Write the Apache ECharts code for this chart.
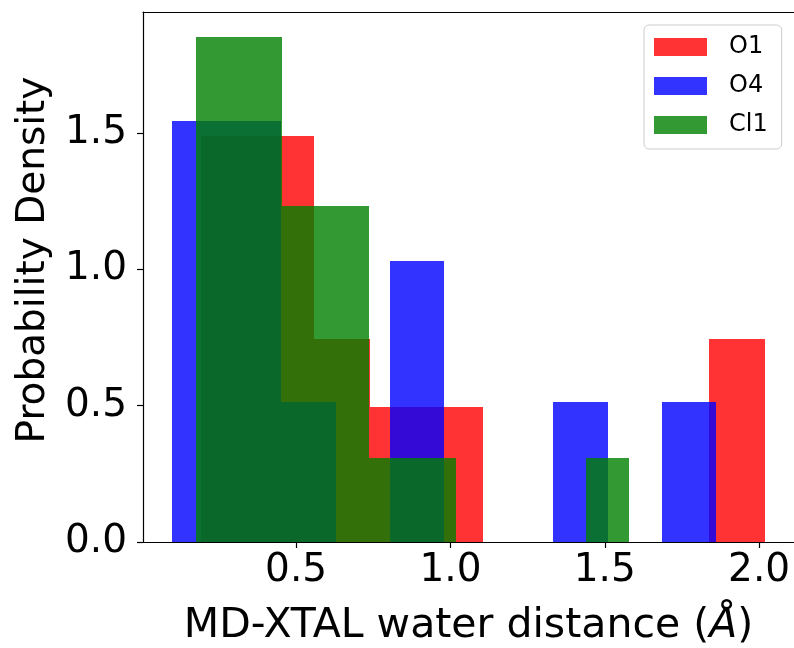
<!DOCTYPE html>
<html>
<head>
<meta charset="utf-8">
<script src="https://cdn.jsdelivr.net/npm/echarts@6/dist/echarts.min.js"></script>
<style>
  html, body { margin: 0; padding: 0; background: #fff; }
  #chart { width: 794px; height: 648px; }
</style>
</head>
<body>
<div id="chart"></div>
<script>
// bin edges and density heights
var o1Edges = [0.192, 0.375, 0.558, 0.740, 0.923, 1.106, 1.289, 1.471, 1.654, 1.837, 2.020];
var o1Heights = [1.489, 1.489, 0.744, 0.497, 0.497, 0, 0, 0, 0, 0.744];

var o4Edges = [0.099, 0.275, 0.451, 0.628, 0.804, 0.980, 1.156, 1.333, 1.509, 1.685, 1.861];
var o4Heights = [1.545, 1.545, 0.515, 0, 1.030, 0, 0, 0.515, 0, 0.515];

var cl1Edges = [0.175, 0.315, 0.455, 0.596, 0.736, 0.877, 1.017, 1.157, 1.298, 1.438, 1.579];
var cl1Heights = [1.851, 1.851, 1.234, 1.234, 0.308, 0.308, 0, 0, 0, 0.308];

var seriesNames = ['O1', 'O4', 'Cl1'];
var xTicks = [0.5, 1.0, 1.5, 2.0];
var yTicks = [0.0, 0.5, 1.0, 1.5];

var FONT = 'DejaVu Sans';

function toBins(edges, heights) {
  var out = [];
  for (var i = 0; i < heights.length; i++) {
    if (heights[i] > 0) out.push([edges[i], edges[i + 1], heights[i]]);
  }
  return out;
}

// snap to whole pixels so neighbouring bins of one series don't leave seams
function renderBar(params, api) {
  var top = api.coord([api.value(0), api.value(2)]);
  var bot = api.coord([api.value(1), 0]);
  var x0 = Math.round(top[0]), x1 = Math.round(bot[0]);
  var y0 = Math.round(top[1]), y1 = Math.round(bot[1]);
  return {
    type: 'rect',
    shape: { x: x0, y: y0, width: x1 - x0, height: y1 - y0 },
    style: { fill: api.visual('color') }
  };
}

function histSeries(name, color, edges, heights) {
  return {
    name: name,
    type: 'custom',
    renderItem: renderBar,
    itemStyle: { color: color },
    encode: { x: [0, 1], y: 2 },
    data: toBins(edges, heights)
  };
}

var chart = echarts.init(document.getElementById('chart'), null, { renderer: 'canvas' });
chart.setOption({
  animation: false,
  textStyle: { fontFamily: FONT },
  grid: { left: 143, right: 0, top: 12, bottom: 106, containLabel: false, outerBoundsMode: 'none' },
  legend: {
    orient: 'vertical',
    left: 644,
    top: 25,
    data: seriesNames,
    icon: 'rect',
    itemWidth: 53,
    itemHeight: 18,
    itemGap: 15,
    padding: [10, 14, 12, 10],
    backgroundColor: 'rgba(255,255,255,0.8)',
    borderColor: '#cccccc',
    borderWidth: 1,
    borderRadius: 5,
    textStyle: { fontFamily: FONT, fontSize: 24, color: '#000', padding: [0, 0, 0, 17] }
  },
  xAxis: [{
    type: 'value',
    min: 0.004,
    max: 2.113,
    name: 'MD-XTAL water distance ({it|Å})',
    nameLocation: 'middle',
    nameGap: 64,
    nameTextStyle: {
      fontFamily: FONT, fontSize: 41, color: '#000',
      rich: { it: { fontFamily: FONT, fontSize: 41, fontStyle: 'italic', color: '#000' } }
    },
    axisLine: { lineStyle: { color: '#000', width: 1.2 } },
    axisTick: { show: true, length: 6, lineStyle: { color: '#000', width: 1.2 }, customValues: xTicks },
    axisLabel: {
      customValues: xTicks,
      fontSize: 39, color: '#000', margin: 9, fontFamily: FONT,
      formatter: function (v) { return v.toFixed(1); }
    },
    splitLine: { show: false }
  }, {
    type: 'value',
    position: 'top',
    min: 0.004,
    max: 2.113,
    axisLine: { show: true, onZero: false, lineStyle: { color: '#000', width: 1.2 } },
    axisTick: { show: false },
    axisLabel: { show: false },
    splitLine: { show: false }
  }],
  yAxis: {
    type: 'value',
    min: 0,
    max: 1.944,
    name: 'Probability Density',
    nameLocation: 'middle',
    nameGap: 90,
    nameRotate: 90,
    nameTextStyle: { fontFamily: FONT, fontSize: 39, color: '#000', padding: [0, 0, 0, 34] },
    axisLine: { show: true, lineStyle: { color: '#000', width: 1.2 } },
    axisTick: { show: true, length: 6, lineStyle: { color: '#000', width: 1.2 }, customValues: yTicks },
    axisLabel: {
      customValues: yTicks,
      fontSize: 39, color: '#000', margin: 16, fontFamily: FONT,
      formatter: function (v) { return v.toFixed(1); }
    },
    splitLine: { show: false }
  },
  series: [
    histSeries('O1', 'rgba(255,0,0,0.8)', o1Edges, o1Heights),
    histSeries('O4', 'rgba(0,0,255,0.8)', o4Edges, o4Heights),
    histSeries('Cl1', 'rgba(0,128,0,0.8)', cl1Edges, cl1Heights)
  ]
});
</script>
</body>
</html>
